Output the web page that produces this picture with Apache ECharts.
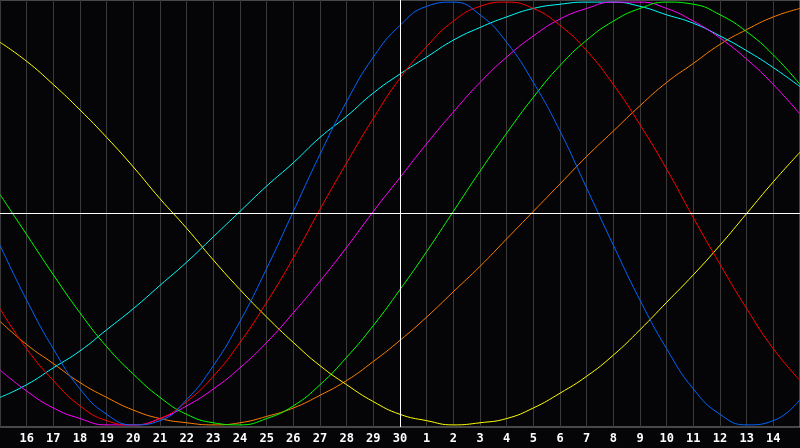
<!DOCTYPE html>
<html>
<head>
<meta charset="utf-8">
<script src="https://cdn.jsdelivr.net/npm/echarts@6/dist/echarts.min.js"></script>
<style>
  html, body { margin: 0; padding: 0; background: #050507; }
  #chart { width: 800px; height: 448px; }
</style>
</head>
<body>
<div id="chart"></div>
<script>
// day labels, 15th of one month to 15th of the next
let days = ['15','16','17','18','19','20','21','22','23','24','25','26','27','28','29','30',
            '1','2','3','4','5','6','7','8','9','10','11','12','13','14','15'];

// curves in percent (-100..100), one value per day
let physical = [-15,-41,-64,-83,-95,-100,-98,-88,-72,-51,-26,1,28,53,74,89,98,100,94,81,62,39,12,-15,-41,-64,-83,-95,-100,-98,-88];
let emotional = [-45,-64,-79,-91,-98,-100,-97,-89,-77,-61,-42,-21,2,24,45,64,79,91,98,100,97,89,77,61,42,21,-2,-24,-45,-64,-79];
let intellectual = [9,-10,-29,-47,-63,-76,-87,-95,-99,-100,-97,-91,-81,-68,-53,-36,-18,1,20,38,55,70,82,91,97,100,99,94,86,75,61];
let intuitive = [-74,-84,-92,-97,-100,-100,-97,-91,-83,-73,-61,-47,-32,-16,1,17,33,48,62,74,84,92,97,100,100,97,91,83,73,61,47];
let spiritual = [-87,-81,-73,-65,-55,-45,-34,-23,-11,1,13,24,36,46,57,66,74,82,88,93,97,99,100,100,98,94,90,84,77,69,60];
let awareness = [-51,-62,-71,-80,-87,-93,-97,-99,-100,-99,-96,-92,-86,-79,-70,-60,-49,-37,-25,-12,1,14,27,39,51,62,71,80,87,93,97];
let aesthetic = [81,72,61,49,36,22,7,-7,-22,-36,-49,-61,-72,-81,-89,-95,-98,-100,-99,-97,-92,-85,-77,-67,-55,-42,-29,-15,0,15,29];

let todayIndex = 15;

function makeLine(name, data, color) {
    return {
        name: name,
        type: 'line',
        data: data,
        smooth: true,
        showSymbol: false,
        lineStyle: { width: 1, color: color },
        itemStyle: { color: color }
    };
}

let myChart = echarts.init(document.getElementById('chart'));

let option = {
    backgroundColor: '#050507',
    animation: false,
    grid: {
        left: 0,
        right: 0,
        top: 0,
        bottom: 21,
        show: true,
        borderColor: '#8c8c8c',
        borderWidth: 1
    },
    xAxis: {
        type: 'category',
        boundaryGap: false,
        data: days,
        axisLine: { show: false },
        axisTick: { show: false },
        axisLabel: {
            interval: function (index) { return index > 0 && index < days.length - 1; },
            color: '#ffffff',
            fontFamily: 'DejaVu Sans Mono',
            fontWeight: 'bold',
            fontSize: 12,
            margin: 6
        },
        splitLine: {
            show: true,
            interval: 0,
            lineStyle: { color: '#3a3a3a', width: 1 }
        }
    },
    yAxis: {
        type: 'value',
        min: -101,
        max: 101,
        show: false,
        splitLine: { show: false }
    },
    series: [
        makeLine('awareness', awareness, '#ff7f00'),
        makeLine('aesthetic', aesthetic, '#ffff00'),
        makeLine('spiritual', spiritual, '#00ffff'),
        makeLine('intuitive', intuitive, '#ff00ff'),
        makeLine('intellectual', intellectual, '#00ff00'),
        makeLine('emotional', emotional, '#ff0000'),
        makeLine('physical', physical, '#0066ff'),
        {
            type: 'line',
            data: [],
            silent: true,
            markLine: {
                silent: true,
                symbol: 'none',
                label: { show: false },
                lineStyle: { color: '#ffffff', width: 1, type: 'solid' },
                data: [
                    { xAxis: todayIndex },
                    { yAxis: 0 }
                ]
            }
        }
    ]
};

myChart.setOption(option);
</script>
</body>
</html>
